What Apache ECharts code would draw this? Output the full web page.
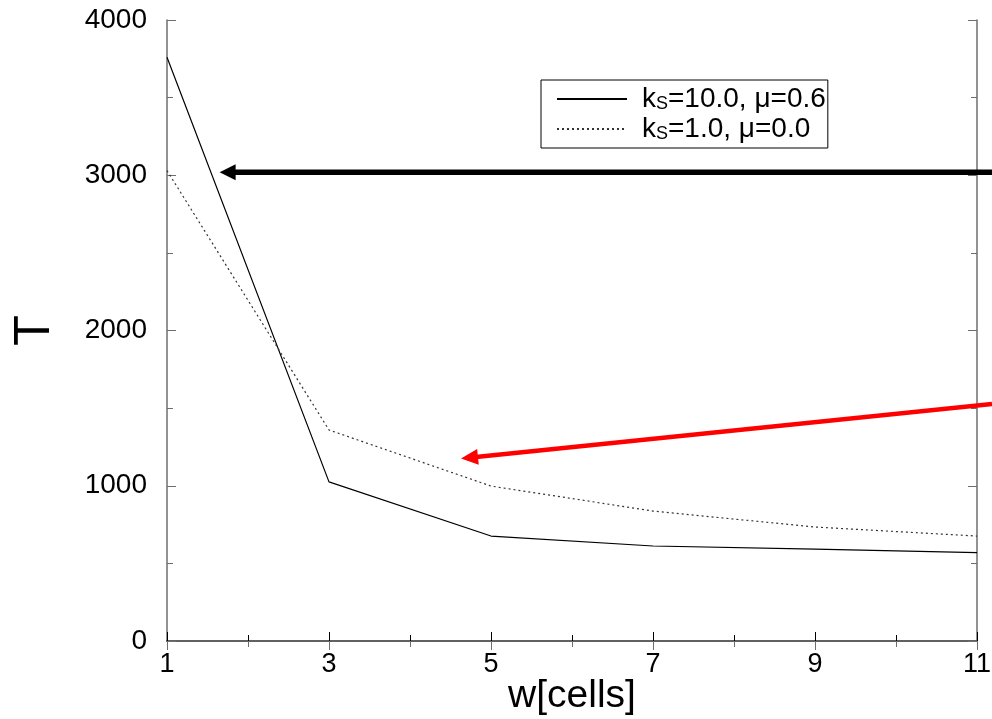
<!DOCTYPE html>
<html>
<head>
<meta charset="utf-8">
<script src="https://cdn.jsdelivr.net/npm/echarts@6/dist/echarts.min.js"></script>
<style>
  html, body { margin: 0; padding: 0; background: #fff; }
  #chart { width: 992px; height: 719px; }
</style>
</head>
<body>
<div id="chart"></div>
<script>
// data
var wCells = [1, 3, 5, 7, 9, 11];
var tSolid = [3760, 1025, 676, 612, 592, 569];   // ks=10.0, mu=0.6
var tDotted = [3030, 1359, 998, 837, 734, 676];  // ks=1.0, mu=0.0
var xTicks = [1, 3, 5, 7, 9, 11];
var yTicks = [0, 1000, 2000, 3000, 4000];
var seriesNames = ['solid', 'dotted'];

var chart = echarts.init(document.getElementById('chart'));

function pairs(xs, ys) {
    return xs.map(function (x, i) { return [x, ys[i]]; });
}

var font = 'Liberation Sans, Arial, Helvetica, sans-serif';
var grayAxis = '#6e6e6e';

var option = {
    animation: false,
    backgroundColor: '#fff',
    grid: { left: 167, top: 20, right: 15, bottom: 78, outerBoundsMode: 'none' },
    legend: {
        data: seriesNames,
        orient: 'vertical',
        left: 541,
        top: 80,
        padding: [5, 2, 5, 15],
        itemGap: 2,
        itemWidth: 70,
        itemHeight: 14,
        borderColor: '#000',
        borderWidth: 1,
        borderRadius: 0,
        itemStyle: { opacity: 0 },
        formatter: function (name) {
            if (name === 'solid') return '{k0|k}{s|S}{k|=10.0, μ=0.6}';
            return '{k0|k}{s|S}{k|=1.0, μ=0.0}';
        },
        textStyle: {
            rich: {
                k0: { fontFamily: font, fontSize: 28, color: '#000', padding: [0, 0, 0, 10] },
                k: { fontFamily: font, fontSize: 28, color: '#000' },
                s: { fontFamily: font, fontSize: 18, color: '#000', verticalAlign: 'bottom', padding: [10, 0, 0, 0] }
            }
        }
    },
    xAxis: [{
        type: 'value',
        min: 1, max: 11, interval: 2,
        name: 'w[cells]',
        nameLocation: 'middle',
        nameGap: 36,
        nameMoveOverlap: false,
        nameTextStyle: { fontFamily: font, fontSize: 39, color: '#000' },
        axisLine: { lineStyle: { color: '#000', width: 1.5 } },
        axisTick: { inside: true, length: 9, lineStyle: { color: '#000' } },
        minorTick: { show: true, splitNumber: 2, length: 6, lineStyle: { color: '#000' } },
        splitLine: { show: false },
        axisLabel: {
            margin: 10, fontFamily: font, fontSize: 27, color: '#000',
            formatter: function (v) { return xTicks.indexOf(v) >= 0 ? String(v) : ''; }
        }
    }, {
        type: 'value', position: 'top',
        min: 1, max: 11, interval: 2,
        axisLine: { lineStyle: { color: grayAxis, width: 1.5 } },
        axisTick: { inside: true, length: 9, lineStyle: { color: grayAxis } },
        minorTick: { show: true, splitNumber: 2, length: 6, lineStyle: { color: grayAxis } },
        splitLine: { show: false },
        axisLabel: { show: false }
    }],
    yAxis: [{
        type: 'value',
        min: 0, max: 4000, interval: 1000,
        name: 'T',
        nameLocation: 'middle',
        nameGap: 107,
        nameRotate: 90,
        nameMoveOverlap: false,
        nameTextStyle: { fontFamily: font, fontSize: 50, color: '#000' },
        axisLine: { show: true, lineStyle: { color: grayAxis, width: 1.5 } },
        axisTick: { show: true, inside: true, length: 9, lineStyle: { color: grayAxis } },
        minorTick: { show: true, splitNumber: 2, length: 6, lineStyle: { color: grayAxis } },
        splitLine: { show: false },
        axisLabel: {
            margin: 20, fontFamily: font, fontSize: 28, color: '#000',
            formatter: function (v) { return yTicks.indexOf(v) >= 0 ? String(v) : ''; }
        }
    }, {
        type: 'value', position: 'right',
        min: 0, max: 4000, interval: 1000,
        axisLine: { show: true, lineStyle: { color: grayAxis, width: 1.5 } },
        axisTick: { show: true, inside: true, length: 9, lineStyle: { color: grayAxis } },
        minorTick: { show: true, splitNumber: 2, length: 6, lineStyle: { color: grayAxis } },
        splitLine: { show: false },
        axisLabel: { show: false }
    }],
    series: [{
        name: 'solid',
        type: 'line',
        data: pairs(wCells, tSolid),
        symbol: 'none',
        itemStyle: { color: '#000' },
        lineStyle: { color: '#000', width: 1.2 }
    }, {
        name: 'dotted',
        type: 'line',
        data: pairs(wCells, tDotted),
        symbol: 'none',
        itemStyle: { color: '#333' },
        lineStyle: { color: '#333', width: 1.2, type: [2, 3] }
    }]
};

chart.setOption(option);

// annotation arrows (tip positions in data space)
function arrow(tip, tail, color, width, headLen, headWid) {
    var dx = tail[0] - tip[0], dy = tail[1] - tip[1];
    var len = Math.sqrt(dx * dx + dy * dy);
    var ux = dx / len, uy = dy / len;
    var bx = tip[0] + ux * headLen, by = tip[1] + uy * headLen;
    var px = -uy * headWid, py = ux * headWid;
    return [{
        type: 'line',
        shape: { x1: bx - ux * 2, y1: by - uy * 2, x2: tail[0], y2: tail[1] },
        style: { stroke: color, lineWidth: width },
        z: 100
    }, {
        type: 'polygon',
        shape: { points: [tip, [bx + px, by + py], [bx, by], [bx - px, by - py]] },
        style: { fill: color },
        z: 100
    }];
}

var blackTip = chart.convertToPixel({ gridIndex: 0 }, [1.65, 3020]);
var redTip = chart.convertToPixel({ gridIndex: 0 }, [4.63, 1175]);
var g = [].concat(
    arrow(blackTip, [992, blackTip[1]], '#000', 5.5, 16, 8),
    arrow(redTip, [992, 404], '#ff0000', 4.5, 17, 8)
);
chart.setOption({ graphic: g });
</script>
</body>
</html>
